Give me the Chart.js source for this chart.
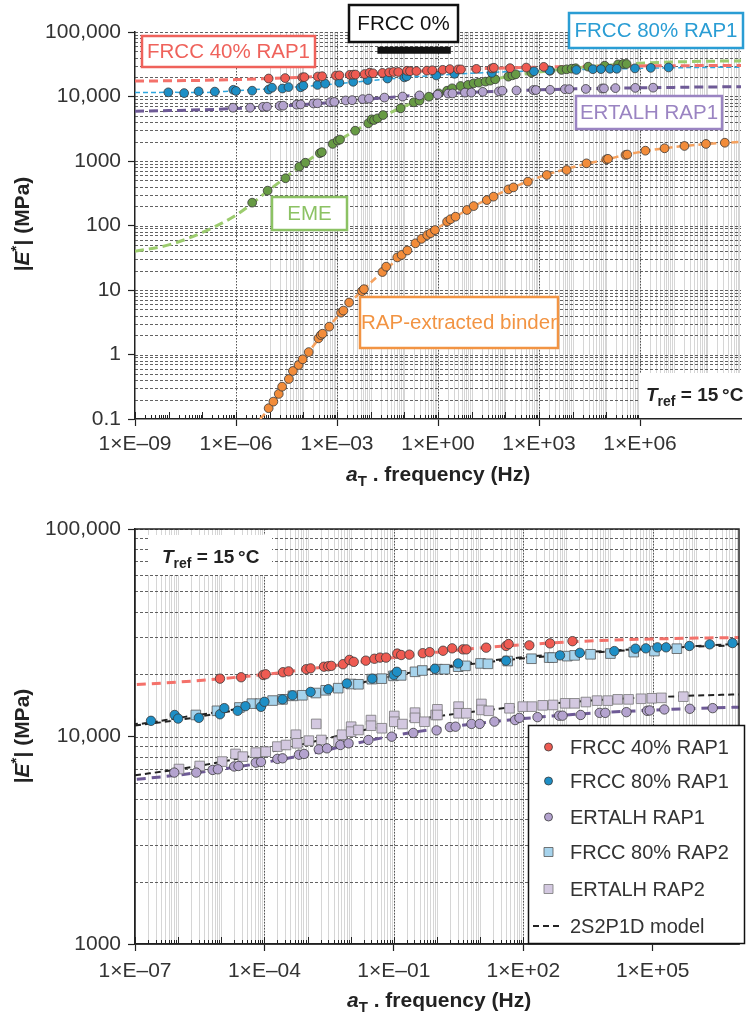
<!DOCTYPE html>
<html>
<head>
<meta charset="utf-8">
<script src="https://cdn.jsdelivr.net/npm/chart.js@4.4.1/dist/chart.umd.min.js"></script>
<style>
  body { margin: 0; background: #fff; }
  canvas { position: absolute; left: 0; }
  #topChart { top: 0; }
  #botChart { top: 500px; }
</style>
</head>
<body>
<canvas id="topChart" width="747" height="500"></canvas>
<canvas id="botChart" width="747" height="515"></canvas>
<script>
const FONT = '"Liberation Sans", Arial, Helvetica, sans-serif';

// tick labels
const topXLabelExps = [-9, -6, -3, 0, 3, 6];
const topXTickLabels = ['1×E–09', '1×E–06', '1×E–03', '1×E+00', '1×E+03', '1×E+06'];
const topYExps = [-1, 0, 1, 2, 3, 4, 5];
const topYTickLabels = ['0.1', '1', '10', '100', '1000', '10,000', '100,000'];
const botXLabelExps = [-7, -4, -1, 2, 5];
const botXTickLabels = ['1×E–07', '1×E–04', '1×E–01', '1×E+02', '1×E+05'];
const botYExps = [3, 4, 5];
const botYTickLabels = ['1000', '10,000', '100,000'];

// measured points: log10(aT.f) and |E*| in MPa
const frcc40LogF = [-5.03, -4.54, -4.03, -3.97, -3.57, -3.44, -3.03, -2.93, -2.62, -2.52, -2.45, -2.18, -2.03, -1.93, -1.65, -1.45, -1.32, -1.18, -0.92, -0.83, -0.64, -0.33, -0.17, 0.14, 0.35, 0.60, 0.68, 1.14, 1.60, 1.66, 2.14, 2.62, 3.14];
const frcc40E = [19000, 19300, 19800, 19950, 20400, 20600, 21100, 21300, 21700, 21800, 21900, 22300, 23400, 22900, 23200, 23700, 24000, 24000, 25100, 24700, 24800, 25200, 25500, 25900, 26600, 26300, 26300, 26800, 27300, 27900, 27500, 28100, 28800];

const frcc80r1LogF = [-8.01, -7.54, -7.11, -6.63, -6.08, -6.00, -5.52, -5.03, -4.93, -4.62, -4.44, -4.08, -4.00, -3.58, -3.35, -2.93, -2.52, -2.09, -1.50, -1.00, -0.93, -0.05, 0.49, 1.60, 2.85, 3.31, 4.11, 4.60, 4.84, 5.11, 5.31, 5.85, 6.32, 6.85];
const frcc80r1E = [11600, 11300, 12000, 11900, 12700, 12200, 12300, 12800, 13700, 13300, 14000, 13900, 14700, 15100, 15800, 16400, 16900, 18000, 19000, 19800, 20500, 21200, 22500, 23200, 24600, 25300, 25800, 26500, 26600, 26900, 26900, 27300, 27800, 28200];

const ertalhR1LogF = [-6.09, -5.58, -5.20, -5.08, -4.70, -4.60, -4.20, -4.08, -3.70, -3.58, -3.20, -3.08, -2.74, -2.55, -2.24, -2.05, -1.59, -1.05, -0.55, -0.01, 0.30, 0.43, 0.80, 0.99, 1.33, 1.81, 1.91, 2.33, 2.83, 2.91, 3.33, 3.77, 3.90, 4.39, 4.87, 4.93, 5.27, 5.86, 6.39];
const ertalhR1E = [6700, 6700, 6900, 6950, 7170, 7210, 7480, 7540, 7800, 7850, 8170, 8240, 8670, 8770, 9100, 9270, 9620, 9980, 10400, 10700, 11100, 11150, 11500, 11500, 11800, 12000, 12300, 12400, 12600, 12600, 12700, 13000, 13000, 13100, 13300, 13350, 13500, 13600, 13700];

const emeLogF = [-5.52, -5.06, -4.53, -4.12, -3.94, -3.51, -3.45, -3.13, -2.98, -2.91, -2.46, -2.07, -1.97, -1.90, -1.80, -1.63, -1.11, -0.72, -0.55, -0.27, 0.02, 0.27, 0.42, 0.67, 0.89, 1.06, 1.21, 1.41, 1.55, 1.70, 2.09, 2.21, 2.31, 2.77, 3.33, 3.67, 3.82, 3.97, 4.09, 4.46, 4.95, 5.35, 5.50, 5.60];
const emeE = [226, 347, 540, 816, 940, 1320, 1370, 1840, 2070, 2150, 2950, 3840, 4430, 4320, 4590, 5160, 6560, 8130, 8610, 9930, 11200, 12300, 13400, 14550, 15100, 16000, 16400, 17000, 17600, 18500, 20300, 21300, 22100, 23400, 25100, 25800, 26400, 27000, 27400, 29000, 30000, 31500, 31900, 31900];

const binderLogF = [-5.03, -4.89, -4.73, -4.63, -4.43, -4.31, -4.14, -4.02, -3.84, -3.55, -3.48, -3.43, -3.23, -2.88, -2.81, -2.64, -2.26, -2.20, -1.65, -1.54, -1.21, -1.08, -0.91, -0.67, -0.49, -0.32, -0.22, -0.09, 0.27, 0.37, 0.52, 0.86, 1.06, 1.45, 1.65, 2.09, 2.24, 2.67, 3.23, 3.82, 4.41, 5.00, 5.05, 5.57, 5.62, 6.16, 6.73, 7.32, 7.96, 8.52];
const binderE = [0.147, 0.186, 0.245, 0.317, 0.417, 0.555, 0.687, 0.843, 1.09, 1.78, 2.0, 2.1, 2.7, 4.45, 4.8, 6.4, 9.6, 10.3, 19, 23, 32, 35, 41, 53, 62, 71, 76, 85, 115, 125, 137, 174, 200, 248, 280, 363, 390, 478, 607, 725, 920, 1060, 1080, 1240, 1260, 1445, 1575, 1710, 1840, 1920];

const frcc80r2LogF = [-5.59, -5.10, -4.58, -4.29, -4.10, -3.81, -3.58, -3.34, -3.12, -2.81, -2.58, -2.29, -1.99, -1.82, -1.51, -1.28, -1.01, -0.83, -0.51, -0.34, 0.01, 0.18, 0.49, 0.66, 1.01, 1.18, 1.64, 2.19, 2.60, 2.68, 3.02, 3.19, 3.56, 4.02, 4.56, 5.04, 5.56];
const frcc80r2E = [12700, 13300, 13800, 14400, 14400, 14900, 15100, 15700, 15800, 16200, 16700, 17100, 17900, 17850, 18900, 19000, 19600, 19700, 20500, 20800, 21100, 21100, 21700, 21900, 22500, 22400, 23100, 23700, 24000, 24000, 24400, 24600, 24900, 25100, 25500, 25800, 26500];

const ertalhR2LogF = [-5.98, -5.50, -4.98, -4.67, -4.50, -4.20, -3.97, -3.70, -3.50, -3.27, -3.24, -2.97, -2.80, -2.68, -2.28, -2.20, -1.99, -1.99, -1.82, -1.53, -1.53, -1.28, -0.99, -0.99, -0.80, -0.51, -0.51, -0.29, -0.03, 0.01, 0.01, 0.50, 0.50, 0.68, 1.03, 1.03, 1.20, 1.68, 1.99, 2.20, 2.45, 2.69, 2.97, 3.19, 3.45, 3.71, 3.96, 4.19, 4.44, 4.73, 4.98, 5.20, 5.71];
const ertalhR2E = [6970, 7210, 7570, 8240, 8000, 8360, 8450, 8940, 9100, 10200, 9270, 9550, 11500, 9620, 9440, 10200, 11150, 10550, 10750, 12000, 11270, 10960, 12560, 11780, 11480, 13030, 12300, 11780, 12700, 13520, 12700, 13930, 12940, 12940, 14350, 13430, 13300, 13680, 13930, 13930, 14130, 14190, 14450, 14450, 14660, 14890, 14890, 15100, 15100, 15200, 15280, 15350, 15560];

// 2S2P1D curves read at whole decades
const modelLogF = [-9, -8, -7, -6, -5, -4, -3, -2, -1, 0, 1, 2, 3, 4, 5, 6, 7, 8, 9];
const frcc40Model = [17400, 17500, 17800, 18300, 19000, 19900, 21100, 22500, 24000, 25500, 26700, 27700, 28500, 29100, 29500, 29800, 30000, 30200, 30300];
const frcc80r1Model = [11500, 11600, 11500, 12300, 13200, 14300, 15800, 17600, 19600, 21400, 22900, 24100, 25100, 25900, 26600, 27300, 27900, 28200, 28500];
const ertalhR1Model = [5900, 6050, 6220, 6520, 6950, 7500, 8200, 9150, 10100, 10900, 11600, 12200, 12700, 13100, 13400, 13650, 13850, 14050, 14200];
const emeModel = [40, 50, 78, 145, 360, 900, 2000, 4000, 7000, 11000, 15600, 20000, 24000, 27500, 30500, 32800, 34300, 35200, 35700];
const botModelLogF = [-7, -6, -5, -4, -3, -2, -1, 0, 1, 2, 3, 4, 5, 6, 7];
const frcc80r2Model = [11300, 12000, 13000, 14300, 15900, 17700, 19600, 21200, 22600, 23800, 24800, 25700, 26500, 27100, 27500];
const ertalhR2Model = [6500, 6950, 7550, 8300, 9300, 10400, 11500, 12500, 13300, 14000, 14600, 15100, 15450, 15750, 15950];
const binderModelLogF = [-5.5, -5, -4.5, -4, -3.5, -3, -2.5, -2, -1.5, -1, -0.5, 0, 0.5, 1, 2, 3, 4, 5, 6, 7, 8, 9];
const binderModel = [0.075, 0.15, 0.36, 0.85, 1.85, 3.8, 7.3, 13, 22, 37, 60, 92, 135, 192, 345, 560, 800, 1060, 1380, 1640, 1840, 1980];

// FRCC 0% marker bar
const frcc0LogF = [-1.8, 0.38];
const frcc0E = [52300, 52300];

const pts = (lf, e) => lf.map((v, i) => ({ x: Math.pow(10, v), y: e[i] }));

const dots = (label, lf, e, fill, style, r, edge) => ({
  label: label, data: pts(lf, e), backgroundColor: fill, borderColor: edge || '#3a3a3a',
  borderWidth: 0.8, pointStyle: style || 'circle', pointRadius: r || 4.4, showLine: false, order: 0
});
const curve = (lf, e, color, width, dash) => ({
  data: pts(lf, e), borderColor: color, borderWidth: width, borderDash: dash,
  pointRadius: 0, showLine: true, fill: false, cubicInterpolationMode: 'monotone', order: 1
});

function richText(ctx, parts, x, y) {
  let cx = x;
  parts.forEach(p => {
    ctx.font = p.font;
    ctx.fillText(p.t, cx, y + (p.dy || 0));
    cx += ctx.measureText(p.t).width;
  });
  return cx - x;
}
function richWidth(ctx, parts) {
  let w = 0;
  parts.forEach(p => { ctx.font = p.font; w += ctx.measureText(p.t).width; });
  return w;
}

const yTitle = [
  { t: '|', font: 'bold 21px ' + FONT },
  { t: 'E', font: 'italic bold 21px ' + FONT },
  { t: '*', font: 'bold 15px ' + FONT, dy: -6 },
  { t: '| (MPa)', font: 'bold 21px ' + FONT }
];
const xTitle = [
  { t: 'a', font: 'italic bold 21px ' + FONT },
  { t: 'T', font: 'bold 15px ' + FONT, dy: 5 },
  { t: ' . frequency (Hz)', font: 'bold 21px ' + FONT }
];
const trefText = [
  { t: 'T', font: 'italic bold 19px ' + FONT },
  { t: 'ref', font: 'bold 14px ' + FONT, dy: 5 },
  { t: ' = 15\u2009°C', font: 'bold 19px ' + FONT }
];

function drawTitles(ctx, yCenter, xStart, xBase) {
  ctx.save();
  ctx.fillStyle = '#222';
  ctx.textAlign = 'left';
  ctx.textBaseline = 'middle';
  ctx.translate(23, yCenter);
  ctx.rotate(-Math.PI / 2);
  richText(ctx, yTitle, -richWidth(ctx, yTitle) / 2, 0);
  ctx.restore();
  ctx.save();
  ctx.fillStyle = '#222';
  ctx.textAlign = 'left';
  ctx.textBaseline = 'alphabetic';
  richText(ctx, xTitle, xStart, xBase);
  ctx.restore();
}

function drawTref(ctx, box, x, base) {
  ctx.save();
  ctx.fillStyle = '#fff';
  ctx.fillRect(box[0], box[1], box[2] - box[0], box[3] - box[1]);
  ctx.fillStyle = '#222';
  ctx.textAlign = 'left';
  ctx.textBaseline = 'alphabetic';
  richText(ctx, trefText, x, base);
  ctx.restore();
}

function boxLabel(ctx, text, b, color) {
  ctx.save();
  ctx.fillStyle = '#fff';
  ctx.fillRect(b[0], b[1], b[2] - b[0], b[3] - b[1]);
  ctx.strokeStyle = color;
  ctx.lineWidth = 2.5;
  ctx.strokeRect(b[0], b[1], b[2] - b[0], b[3] - b[1]);
  ctx.fillStyle = color;
  ctx.font = '20.5px ' + FONT;
  ctx.textAlign = 'center';
  ctx.textBaseline = 'middle';
  ctx.fillText(text, (b[0] + b[2]) / 2, (b[1] + b[3]) / 2 + 1);
  ctx.restore();
}

function gridPlugin(g) {
  return {
    id: 'logGrid',
    beforeDatasetsDraw(chart) {
      const { ctx, chartArea: a, scales: { x, y } } = chart;
      const seg = (x1, y1, x2, y2) => { ctx.beginPath(); ctx.moveTo(x1, y1); ctx.lineTo(x2, y2); ctx.stroke(); };
      ctx.save();
      ctx.beginPath();
      ctx.rect(a.left, a.top, a.right - a.left, a.bottom - a.top);
      ctx.clip();
      ctx.strokeStyle = '#d6d6d6';
      ctx.lineWidth = 1;
      for (let e = g.vFrom; e < g.xTo; e++) {
        for (let m = 1; m < 10; m++) {
          const px = Math.round(x.getPixelForValue(m * Math.pow(10, e))) + 0.5;
          seg(px, a.top, px, a.bottom);
        }
      }
      ctx.strokeStyle = '#3a3a3a';
      ctx.lineWidth = 0.8;
      ctx.setLineDash([3, 2]);
      for (let e = g.yFrom; e <= g.yTo; e++) {
        for (let m = 1; m < 10; m++) {
          if (e === g.yTo && m > 1) break;
          const py = Math.round(y.getPixelForValue(m * Math.pow(10, e))) + 0.5;
          seg(a.left, py, a.right, py);
        }
      }
      ctx.strokeStyle = '#555';
      ctx.lineWidth = 1;
      ctx.setLineDash([1.5, 1.5]);
      g.majors.forEach(e => {
        const px = Math.round(x.getPixelForValue(Math.pow(10, e))) + 0.5;
        seg(px, a.top, px, a.bottom);
      });
      ctx.restore();
      ctx.save();
      ctx.strokeStyle = '#222';
      ctx.lineWidth = 1;
      for (let e = g.xFrom; e < g.xTo; e++) {
        for (let m = 1; m < 10; m++) {
          const px = Math.round(x.getPixelForValue(m * Math.pow(10, e))) + 0.5;
          seg(px, a.bottom, px, a.bottom - (m === 1 ? 7 : 4));
        }
      }
      ctx.restore();
    }
  };
}

function makeScales(s) {
  const decades = [];
  for (let e = s.xFrom; e <= s.xTo; e++) decades.push(e);
  const exp = v => Math.round(Math.log10(v));
  return {
    x: {
      type: 'logarithmic', min: Math.pow(10, s.xFrom), max: Math.pow(10, s.xTo),
      afterBuildTicks: sc => { sc.ticks = decades.map(e => ({ value: Math.pow(10, e) })); },
      afterFit: sc => { sc.height = s.xHeight; },
      ticks: {
        autoSkip: false, maxRotation: 0, minRotation: 0, padding: s.xPad, color: '#333',
        font: { family: FONT, size: 21 },
        callback: v => { const i = s.xLabelExps.indexOf(exp(v)); return i >= 0 ? s.xLabels[i] : ''; }
      },
      grid: {
        drawOnChartArea: false, tickLength: 7, tickWidth: 1.2,
        tickColor: c => (c.tick && s.xLabelExps.indexOf(exp(c.tick.value)) >= 0) ? '#222' : 'rgba(0,0,0,0)'
      },
      border: { color: '#222', width: 1.5 }
    },
    y: {
      type: 'logarithmic', min: Math.pow(10, s.yExps[0]), max: Math.pow(10, s.yExps[s.yExps.length - 1]),
      afterBuildTicks: sc => { sc.ticks = s.yExps.map(e => ({ value: Math.pow(10, e) })); },
      afterFit: sc => { sc.width = 135; },
      ticks: {
        padding: 7, color: '#333', font: { family: FONT, size: 21 },
        callback: v => s.yLabels[s.yExps.indexOf(exp(v))]
      },
      grid: { drawOnChartArea: false, tickLength: 7, tickWidth: 1.2, tickColor: '#222' },
      border: { color: '#222', width: 1.5 }
    }
  };
}

// ---------- top chart ----------
const topLabels = [
  { text: 'FRCC 40% RAP1', box: [142, 36, 315, 67], color: '#ef625b' },
  { text: 'FRCC 0%', box: [349, 5, 458, 42], color: '#111' },
  { text: 'FRCC 80% RAP1', box: [569, 13, 743, 48], color: '#2a9dd4' },
  { text: 'ERTALH RAP1', box: [576, 96, 722, 129], color: '#9a84c2' },
  { text: 'EME', box: [272, 197, 347, 230], color: '#8cc264' },
  { text: 'RAP-extracted binder', box: [360, 297, 558, 348], color: '#f29443' }
];

new Chart(document.getElementById('topChart'), {
  type: 'scatter',
  data: {
    datasets: [
      dots('FRCC 40% RAP1', frcc40LogF, frcc40E, '#ef5b52'),
      dots('FRCC 80% RAP1', frcc80r1LogF, frcc80r1E, '#1e8fc6'),
      dots('ERTALH RAP1', ertalhR1LogF, ertalhR1E, '#b4a3cf'),
      dots('EME', emeLogF, emeE, '#679a44'),
      dots('RAP-extracted binder', binderLogF, binderE, '#f28c3a'),
      curve(modelLogF, frcc40Model, '#f4716a', 3, [9, 5]),
      curve(modelLogF, frcc80r1Model, '#2ea6de', 1.5, [5, 3]),
      curve(modelLogF, ertalhR1Model, '#6e5a96', 3, [9, 5]),
      curve(modelLogF, emeModel, '#9ccc6e', 3, [9, 5]),
      curve(binderModelLogF, binderModel, '#f5a15e', 2.5, [7, 4]),
      Object.assign(curve(frcc0LogF, frcc0E, '#111', 7, []), { cubicInterpolationMode: 'default' })
    ]
  },
  options: {
    responsive: false, animation: false, devicePixelRatio: 1,
    layout: { padding: { top: 32, right: 5, left: 0, bottom: 0 } },
    plugins: { legend: { display: false }, tooltip: { enabled: false } },
    scales: makeScales({
      xFrom: -9, xTo: 9, xHeight: 81, xPad: 6,
      xLabelExps: topXLabelExps, xLabels: topXTickLabels,
      yExps: topYExps, yLabels: topYTickLabels
    })
  },
  plugins: [
    gridPlugin({ xFrom: -9, xTo: 9, vFrom: -5, yFrom: -1, yTo: 5, majors: [-6, -3, 0, 3, 6] }),
    {
      id: 'topOverlay',
      afterDraw(chart) {
        const ctx = chart.ctx;
        topLabels.forEach(l => boxLabel(ctx, l.text, l.box, l.color));
        drawTref(ctx, [640, 373, 745, 418], 646, 401);
        drawTitles(ctx, 224, 346, 481);
      }
    }
  ]
});

// ---------- bottom chart ----------
const botLegendRows = [247, 281, 317, 352, 389, 426];

new Chart(document.getElementById('botChart'), {
  type: 'scatter',
  data: {
    datasets: [
      dots('FRCC 40% RAP1', frcc40LogF, frcc40E, '#ef5b52', 'circle', 4.7),
      dots('FRCC 80% RAP1', frcc80r1LogF, frcc80r1E, '#1e8fc6', 'circle', 4.7),
      dots('ERTALH RAP1', ertalhR1LogF, ertalhR1E, '#b4a3cf', 'circle', 4.7),
      dots('FRCC 80% RAP2', frcc80r2LogF, frcc80r2E, '#a6d3ec', 'rect', 6.8, '#555'),
      dots('ERTALH RAP2', ertalhR2LogF, ertalhR2E, '#d3c8e0', 'rect', 6.8, '#777'),
      curve(modelLogF, frcc40Model, '#f4716a', 3, [9, 6]),
      curve(modelLogF, frcc80r1Model, '#222', 2, [6, 4]),
      curve(botModelLogF, frcc80r2Model, '#222', 2, [6, 4]),
      curve(modelLogF, ertalhR1Model, '#6e5a96', 3, [9, 6]),
      curve(botModelLogF, ertalhR2Model, '#222', 2, [6, 4])
    ]
  },
  options: {
    responsive: false, animation: false, devicePixelRatio: 1,
    layout: { padding: { top: 29, right: 4, left: 0, bottom: 0 } },
    plugins: { legend: { display: false }, tooltip: { enabled: false } },
    scales: makeScales({
      xFrom: -7, xTo: 7, xHeight: 71, xPad: 8,
      xLabelExps: botXLabelExps, xLabels: botXTickLabels,
      yExps: botYExps, yLabels: botYTickLabels
    })
  },
  plugins: [
    gridPlugin({ xFrom: -7, xTo: 7, vFrom: -7, yFrom: 3, yTo: 5, majors: [-4, -1, 2, 5] }),
    {
      id: 'botOverlay',
      afterDraw(chart) {
        const ctx = chart.ctx;
        const a = chart.chartArea;
        ctx.save();
        ctx.strokeStyle = '#222';
        ctx.lineWidth = 1.5;
        ctx.strokeRect(a.left, a.top, a.right - a.left, a.bottom - a.top);
        ctx.restore();
        drawTref(ctx, [148, 35, 272, 75], 162, 63);
        // legend
        ctx.save();
        ctx.fillStyle = '#fff';
        ctx.fillRect(528, 225, 217, 219);
        ctx.strokeStyle = '#111';
        ctx.lineWidth = 1.5;
        ctx.strokeRect(528.5, 225.5, 216, 218);
        ctx.font = '20px ' + FONT;
        ctx.textAlign = 'left';
        ctx.textBaseline = 'middle';
        const sets = chart.data.datasets.filter(d => d.label);
        sets.forEach((d, i) => {
          const yy = botLegendRows[i];
          ctx.fillStyle = d.backgroundColor;
          ctx.strokeStyle = d.borderColor;
          ctx.lineWidth = 0.8;
          ctx.beginPath();
          if (d.pointStyle === 'rect') ctx.rect(544, yy - 4.5, 9, 9);
          else ctx.arc(548.5, yy, 4, 0, Math.PI * 2);
          ctx.fill();
          ctx.stroke();
          ctx.fillStyle = '#333';
          ctx.fillText(d.label, 570, yy + 1);
        });
        const ly = botLegendRows[5];
        ctx.strokeStyle = '#222';
        ctx.lineWidth = 2;
        ctx.setLineDash([6, 4]);
        ctx.beginPath();
        ctx.moveTo(533, ly);
        ctx.lineTo(563, ly);
        ctx.stroke();
        ctx.setLineDash([]);
        ctx.fillStyle = '#333';
        ctx.fillText('2S2P1D model', 570, ly + 1);
        ctx.restore();
        drawTitles(ctx, 236, 347, 507);
      }
    }
  ]
});
</script>
</body>
</html>
